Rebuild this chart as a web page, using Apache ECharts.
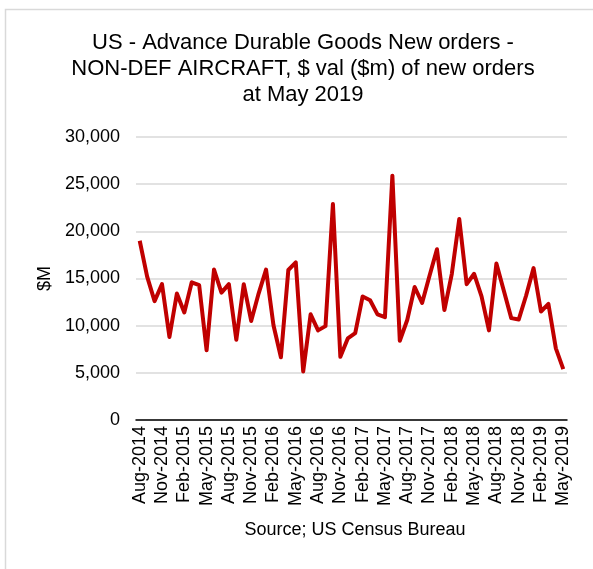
<!DOCTYPE html>
<html>
<head>
<meta charset="utf-8">
<script src="https://cdn.jsdelivr.net/npm/echarts@6/dist/echarts.min.js"></script>
<style>html,body{margin:0;padding:0;background:#fff}#c{width:593px;height:569px}</style>
</head>
<body>
<div id="c"></div>
<script>
const categories = [
 "Aug-2014","Sep-2014","Oct-2014","Nov-2014","Dec-2014",
 "Jan-2015","Feb-2015","Mar-2015","Apr-2015","May-2015","Jun-2015","Jul-2015","Aug-2015","Sep-2015","Oct-2015","Nov-2015","Dec-2015",
 "Jan-2016","Feb-2016","Mar-2016","Apr-2016","May-2016","Jun-2016","Jul-2016","Aug-2016","Sep-2016","Oct-2016","Nov-2016","Dec-2016",
 "Jan-2017","Feb-2017","Mar-2017","Apr-2017","May-2017","Jun-2017","Jul-2017","Aug-2017","Sep-2017","Oct-2017","Nov-2017","Dec-2017",
 "Jan-2018","Feb-2018","Mar-2018","Apr-2018","May-2018","Jun-2018","Jul-2018","Aug-2018","Sep-2018","Oct-2018","Nov-2018","Dec-2018",
 "Jan-2019","Feb-2019","Mar-2019","Apr-2019","May-2019"
];
const orders = [
 19000,15200,12600,14400,8800,
 13400,11400,14600,14300,7400,15950,13500,14400,8500,14400,10500,13400,
 15950,10050,6650,15900,16700,5150,11200,9500,9950,22900,6700,8650,
 9200,13100,12700,11200,10900,25900,8400,10600,14100,12400,15300,18100,
 11650,15500,21300,14400,15500,13100,9500,16600,13700,10800,10650,13200,
 16100,11500,12300,7600,5400
];
const yTicks = { min: 0, max: 30000, interval: 5000 };
const titleText = "US - Advance Durable Goods New orders -\nNON-DEF AIRCRAFT, $ val ($m) of new orders\nat May 2019";
const sourceText = "Source; US Census Bureau";
const yName = "$M";

const FONT = "'Liberation Sans', Arial, sans-serif";
const chart = echarts.init(document.getElementById('c'), null, {renderer:'canvas'});
chart.setOption({
  animation: false,
  backgroundColor: '#fff',
  graphic: [{
    type: 'rect', left: 3, top: 7, shape: {width: 620, height: 620},
    style: {fill: 'none', stroke: '#d9d9d9', lineWidth: 1.5}, silent: true
  }],
  title: [{
    text: titleText, left: 298, top: 25, textAlign: 'center',
    textStyle: {fontFamily: FONT, fontSize: 22, fontWeight: 'normal', color: '#000', lineHeight: 26}
  }, {
    text: sourceText, left: 350, top: 516, textAlign: 'center',
    textStyle: {fontFamily: FONT, fontSize: 18, fontWeight: 'normal', color: '#000'}
  }],
  grid: {left: 136, right: 26, top: 137, bottom: 149, containLabel: false},
  xAxis: {
    type: 'category', data: categories, boundaryGap: true,
    axisLine: {lineStyle: {color: '#000', width: 1.5}},
    axisTick: {interval: 0, length: 5, lineStyle: {color: '#000', width: 1}},
    axisLabel: {interval: 2, rotate: 90, color: '#000', fontFamily: FONT, fontSize: 18, margin: 6}
  },
  yAxis: {
    type: 'value', min: yTicks.min, max: yTicks.max, interval: yTicks.interval,
    name: yName, nameLocation: 'middle', nameGap: 82, nameRotate: 90,
    nameTextStyle: {fontFamily: FONT, fontSize: 18, color: '#000'},
    axisLine: {show: false}, axisTick: {show: false},
    splitLine: {lineStyle: {color: '#d9d9d9', width: 1.5}},
    axisLabel: {color: '#000', fontFamily: FONT, fontSize: 18, margin: 16,
      formatter: v => v.toLocaleString('en-US')}
  },
  series: [{
    type: 'line', data: orders, symbol: 'none',
    lineStyle: {color: '#c00000', width: 4, join: 'round'}
  }]
});
</script>
</body>
</html>
